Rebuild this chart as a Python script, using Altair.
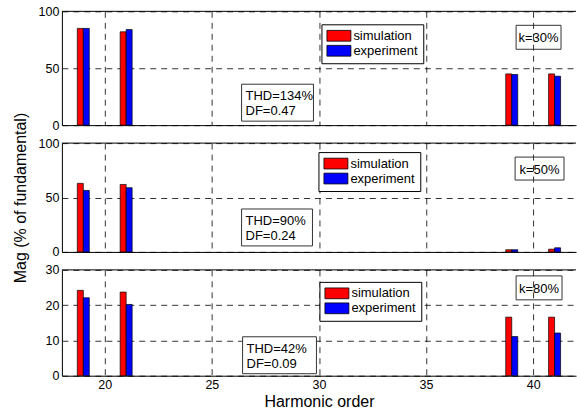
import altair as alt
import pandas as pd

# ---- data ----
harmonics = [19, 21, 39, 41]
series_names = ["simulation", "experiment"]
series_colors = ["#ff0000", "#0000ff"]
k_labels = ["k=30%", "k=50%", "k=80%"]
thd_labels = ["THD=134%\nDF=0.47", "THD=90%\nDF=0.24", "THD=42%\nDF=0.09"]
sim_k30 = [85, 82, 45, 45]
exp_k30 = [85, 84, 44.5, 43]
sim_k50 = [63, 62, 2, 2.5]
exp_k50 = [56.5, 59, 2, 3.8]
sim_k80 = [24.2, 23.7, 16.6, 16.6]
exp_k80 = [22.1, 20.2, 11.1, 12.1]
y_max = [100, 100, 30]
y_ticks = [[0, 50, 100], [0, 50, 100], [0, 10, 20, 30]]
x_ticks = [20, 25, 30, 35, 40]
x_domain = [18, 42]

FONT = "Liberation Sans"
W = 515
heights = [114, 109, 106]
# annotation placement (pixels inside each panel)
legend_pos = [(260, 13), (257, 9), (258, 12)]
kbox = [(455, 500, 14, 38), (454, 503, 14, 37), (455, 501, 6, 30)]
thdbox = [(180, 252, 73, 110), (180, 251, 66, 103), (181, 255, 67, 104)]


def panel(i, sim, exp):
    df = pd.DataFrame({
        "harmonic": harmonics * 2,
        "series": [series_names[0]] * len(harmonics) + [series_names[1]] * len(harmonics),
        "value": sim + exp,
    })
    show_x = i == 2
    x_axis = alt.Axis(
        values=x_ticks, labels=show_x, ticks=False, domain=True, grid=True,
        labelFontSize=12.5, labelPadding=3,
        titleFontSize=16, titlePadding=2,
    )
    y_axis = alt.Axis(
        values=y_ticks[i], ticks=False, domain=True, grid=True,
        labelFontSize=12.5, labelPadding=3, titleFontSize=16, titlePadding=10,
    )
    xenc = alt.X("x0:Q", scale=alt.Scale(domain=x_domain, nice=False, zero=False),
                 axis=x_axis, title="Harmonic order" if show_x else None)
    yenc = alt.Y("value:Q", scale=alt.Scale(domain=[0, y_max[i]], nice=False),
                 axis=y_axis, title="Mag (% of fundamental)" if i == 1 else None)
    lx, ly = legend_pos[i]
    bars = alt.Chart(df).transform_calculate(
        x0="datum.series == 'simulation' ? datum.harmonic - 0.28 : datum.harmonic",
        x1="datum.series == 'simulation' ? datum.harmonic : datum.harmonic + 0.28",
    ).mark_bar(stroke="black", strokeWidth=0.7, opacity=1).encode(
        x=xenc,
        x2="x1:Q",
        y=yenc,
        y2=alt.datum(0),
        color=alt.Color(
            "series:N",
            scale=alt.Scale(domain=series_names, range=series_colors),
            legend=alt.Legend(
                title=None, orient="none", legendX=lx, legendY=ly,
                symbolType="M-2,-0.9L2,-0.9L2,0.9L-2,0.9Z", symbolSize=144,
                symbolStrokeColor="black", symbolStrokeWidth=0.8, symbolOpacity=1,
                labelFontSize=13, labelFont=FONT, labelOffset=8, labelColor="black",
                padding=5, rowPadding=0, strokeColor="black", fillColor="white",
                symbolOffset=6,
            ),
        ),
    )
    kx1, kx2, ky1, ky2 = kbox[i]
    kdf = pd.DataFrame({"label": [k_labels[i]]})
    k_rect = alt.Chart(kdf).mark_rect(fillOpacity=0, stroke="#333333", strokeWidth=1).encode(
        x=alt.value(kx1), x2=alt.value(kx2), y=alt.value(ky1), y2=alt.value(ky2))
    k_text = alt.Chart(kdf).mark_text(font=FONT, fontSize=13, align="center", baseline="middle",
                                      color="black").encode(
        x=alt.value((kx1 + kx2) / 2), y=alt.value((ky1 + ky2) / 2 + 1), text="label:N")
    tx1, tx2, ty1, ty2 = thdbox[i]
    tdf = pd.DataFrame({"label": [thd_labels[i]]})
    t_rect = alt.Chart(tdf).mark_rect(fill="white", stroke="#333333", strokeWidth=1).encode(
        x=alt.value(tx1), x2=alt.value(tx2), y=alt.value(ty1), y2=alt.value(ty2))
    t_text = alt.Chart(tdf).mark_text(font=FONT, fontSize=13, align="left", baseline="middle",
                                      lineBreak="\n", lineHeight=15, color="black").encode(
        x=alt.value(tx1 + 4), y=alt.value(ty1 + 12), text="label:N")
    top_line = alt.Chart(kdf).mark_rule(color="black", strokeWidth=1).encode(
        x=alt.value(0), x2=alt.value(W), y=alt.value(0))
    return alt.layer(bars, t_rect, t_text, k_rect, k_text, top_line).properties(
        width=W, height=heights[i])


chart = alt.vconcat(
    panel(0, sim_k30, exp_k30),
    panel(1, sim_k50, exp_k50),
    panel(2, sim_k80, exp_k80),
    spacing=18, bounds="flush",
).resolve_scale(y="independent", x="independent").resolve_legend(color="independent").configure(
    padding={"left": 12, "top": 5, "right": 0, "bottom": 0},
    font=FONT,
).configure_view(
    strokeWidth=0, stroke="transparent",
).configure_axis(
    gridColor="black", gridDash=[6, 5], gridWidth=0.8, gridOpacity=1,
    domainColor="black", domainWidth=1,
    labelColor="black", titleColor="black", titleFontWeight="normal",
    labelFont=FONT, titleFont=FONT,
)

chart.save("out.html", embed_options={"renderer": "svg", "actions": False})
